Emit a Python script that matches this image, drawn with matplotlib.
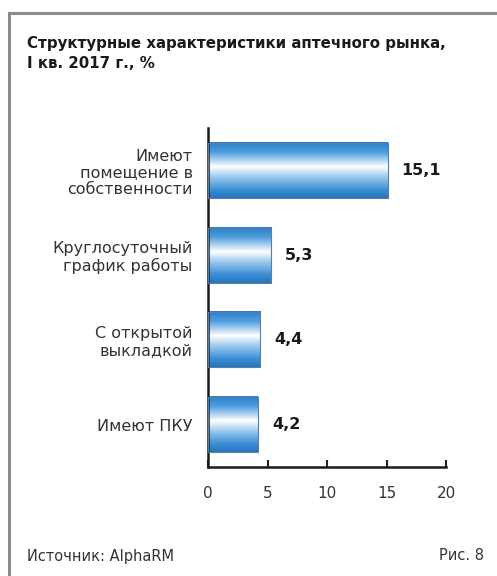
import numpy as np
import matplotlib.pyplot as plt
from matplotlib.colors import LinearSegmentedColormap
from matplotlib.lines import Line2D

categories = ["Имеют\nпомещение в\nсобственности",
              "Круглосуточный\nграфик работы",
              "С открытой\nвыкладкой",
              "Имеют ПКУ"]
values = [15.1, 5.3, 4.4, 4.2]
value_labels = ["15,1", "5,3", "4,4", "4,2"]
xticks = [0, 5, 10, 15, 20]

title = "Структурные характеристики аптечного рынка,\nI кв. 2017 г., %"
source = "Источник: AlphaRM"
fig_no = "Рис. 8"

plt.rcParams['font.family'] = ['DejaVu Sans']

fig = plt.figure(figsize=(4.97, 5.76), dpi=100)
ax = fig.add_axes([0.4185, 0.1892, 0.479, 0.5885])

# vertical shading of the bars: blue edges, white band in the middle
bar_cmap = LinearSegmentedColormap.from_list(
    "bar", [(0.0, "#2a7dca"), (0.18, "#4f9fdf"), (0.44, "#ffffff"),
            (0.62, "#9ccaee"), (0.85, "#3b8fd6"), (1.0, "#2a74bd")])
grad = np.linspace(0, 1, 256).reshape(-1, 1)

pos = np.arange(len(values))
bar_h = 0.65
bars = ax.barh(pos, values, height=bar_h, facecolor="none",
               edgecolor="#5a7fa0", linewidth=0.8, zorder=3)
for b, v in zip(bars, values):
    y0 = b.get_y()
    ax.imshow(grad, cmap=bar_cmap, aspect="auto", interpolation="bilinear",
              extent=(0, v, y0 + bar_h, y0), zorder=2)
    # darker cap on the right end of the bar
    ax.imshow(grad, cmap=bar_cmap, aspect="auto", interpolation="bilinear",
              extent=(v - 0.35, v, y0 + bar_h, y0), zorder=2, alpha=0.35)

for p, v, lab in zip(pos, values, value_labels):
    ax.annotate(lab, (v, p), xytext=(10, 0), textcoords="offset points",
                ha="left", va="center", fontsize=11.5, fontweight="bold",
                color="#1a1a1a")

ax.set_xlim(0, 20)
ax.set_ylim(3.5, -0.5)
ax.set_xticks(xticks)
ax.set_xticklabels([str(t) for t in xticks], fontsize=11, color="#333333")
ax.set_yticks(pos)
ax.set_yticklabels(categories, fontsize=11.5, color="#333333",
                   linespacing=1.12)
ax.tick_params(axis="x", direction="in", length=5, width=1.5,
               color="#222222", pad=14)
ax.tick_params(axis="y", length=0, pad=11)
for side in ["top", "right"]:
    ax.spines[side].set_visible(False)
for side in ["left", "bottom"]:
    ax.spines[side].set_linewidth(1.8)
    ax.spines[side].set_color("#1a1a1a")
ax.set_facecolor("none")

fig.text(27 / 497, 1 - 36 / 576, title, fontsize=10.8, fontweight="bold",
         color="#1a1a1a", ha="left", va="top", linespacing=1.45)
fig.text(27 / 497, 1 - 556 / 576, source, fontsize=10.5, color="#333333",
         ha="left", va="center")
fig.text(484 / 497, 1 - 556 / 576, fig_no, fontsize=10.5, color="#333333",
         ha="right", va="center")

# gray frame along the left and top edges
fig.add_artist(Line2D([9 / 497, 9 / 497], [0, 1 - 13 / 576],
                      color="#8a8a8a", linewidth=2.2))
fig.add_artist(Line2D([9 / 497, 1], [1 - 13 / 576, 1 - 13 / 576],
                      color="#8a8a8a", linewidth=2.2))

fig.savefig("out.png", dpi=100)
